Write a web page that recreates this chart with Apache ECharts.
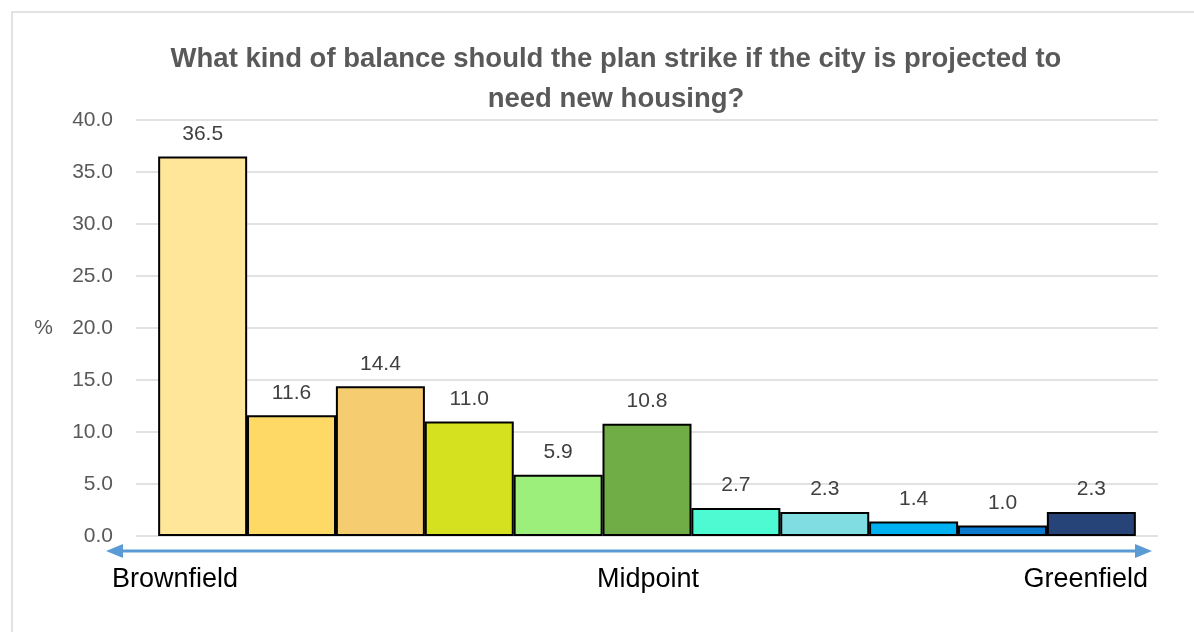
<!DOCTYPE html>
<html>
<head>
<meta charset="utf-8">
<script src="https://cdn.jsdelivr.net/npm/echarts@6/dist/echarts.min.js"></script>
<style>
  html, body { margin: 0; padding: 0; background: #fff; }
  #chart { width: 1194px; height: 632px; }
</style>
</head>
<body>
<div id="chart"></div>
<script>
  // one bar per step on the brownfield -> greenfield scale
  var positions = [0, 1, 2, 3, 4, 5, 6, 7, 8, 9, 10]
  var percents = [36.5, 11.6, 14.4, 11.0, 5.9, 10.8, 2.7, 2.3, 1.4, 1.0, 2.3]
  var barColors = ['#FFE699', '#FFD966', '#F5CC70', '#D5E11E', '#9BEF7A', '#70AD47',
                   '#4DFAD2', '#80DEE3', '#00B0F0', '#0B79CE', '#264478']
  var scaleLabels = ['Brownfield', 'Midpoint', 'Greenfield']
  var yTicks = [0, 5, 10, 15, 20, 25, 30, 35, 40]

  var myChart = echarts.init(document.getElementById('chart'))

  var font = 'Liberation Sans, Arial, sans-serif'

  myChart.setOption({
    animation: false,
    textStyle: { fontFamily: font },
    title: {
      text: 'What kind of balance should the plan strike if the city is projected to\nneed new housing?',
      left: 611,
      textAlign: 'center',
      top: 34,
      textStyle: {
        fontSize: 27.5,
        fontWeight: 'bold',
        color: '#595959',
        lineHeight: 40
      }
    },
    grid: { left: 136, right: 36, top: 120, bottom: 96 },
    xAxis: {
      type: 'value',
      min: -0.75,
      max: 10.75,
      axisLine: { show: false },
      axisTick: { show: false },
      axisLabel: { show: false },
      splitLine: { show: false }
    },
    yAxis: {
      type: 'value',
      min: yTicks[0],
      max: yTicks[yTicks.length - 1],
      interval: 5,
      name: '%',
      nameLocation: 'middle',
      nameRotate: 0,
      nameGap: 83,
      nameTextStyle: { fontSize: 21, color: '#595959' },
      axisLine: { show: false },
      axisTick: { show: false },
      axisLabel: {
        fontSize: 21,
        color: '#595959',
        margin: 23,
        formatter: function (v) { return v.toFixed(1) }
      },
      splitLine: { lineStyle: { color: '#d9d9d9', width: 1.5 } }
    },
    series: [{
      type: 'bar',
      barWidth: 89,
      data: positions.map(function (p, i) {
        return {
          value: [p, percents[i]],
          itemStyle: { color: barColors[i] }
        }
      }),
      itemStyle: { borderColor: '#000', borderWidth: 2 },
      label: {
        show: true,
        position: 'top',
        distance: 12,
        fontSize: 21,
        color: '#404040',
        formatter: function (p) { return p.value[1].toFixed(1) }
      }
    }],
    graphic: [
      {
        type: 'rect',
        shape: { x: 12, y: 12, width: 1200, height: 640 },
        style: { fill: 'none', stroke: '#d9d9d9', lineWidth: 1.5 },
        z: -1
      },
      {
        type: 'line',
        shape: { x1: 118, y1: 551, x2: 1140, y2: 551 },
        style: { stroke: '#5B9BD5', lineWidth: 3 }
      },
      {
        type: 'polygon',
        shape: { points: [[106, 551], [123, 544], [123, 558]] },
        style: { fill: '#5B9BD5' }
      },
      {
        type: 'polygon',
        shape: { points: [[1152, 551], [1135, 544], [1135, 558]] },
        style: { fill: '#5B9BD5' }
      },
      {
        type: 'text',
        x: 112,
        y: 580,
        style: { text: scaleLabels[0], fontSize: 27, fill: '#000', fontFamily: font,
                 textAlign: 'left', textVerticalAlign: 'middle' }
      },
      {
        type: 'text',
        x: 648,
        y: 580,
        style: { text: scaleLabels[1], fontSize: 27, fill: '#000', fontFamily: font,
                 textAlign: 'center', textVerticalAlign: 'middle' }
      },
      {
        type: 'text',
        x: 1148,
        y: 580,
        style: { text: scaleLabels[2], fontSize: 27, fill: '#000', fontFamily: font,
                 textAlign: 'right', textVerticalAlign: 'middle' }
      }
    ]
  })
</script>
</body>
</html>
